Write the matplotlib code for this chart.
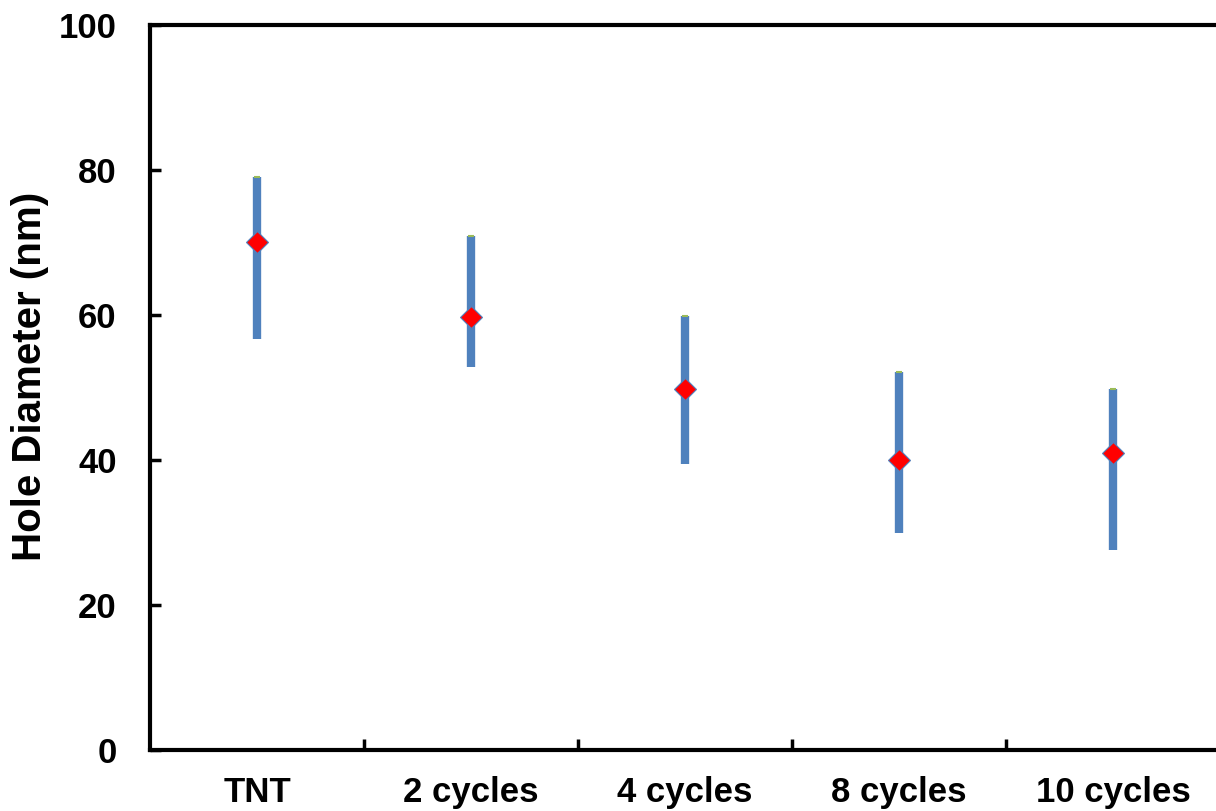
import numpy as np
import matplotlib.pyplot as plt

categories = ['TNT', '2 cycles', '4 cycles', '8 cycles', '10 cycles']
mean_diam = [70.1, 59.7, 49.8, 40.0, 40.9]
low_diam = [56.7, 52.8, 39.5, 29.9, 27.6]
high_diam = [79.1, 70.9, 59.8, 52.1, 49.8]

plt.rcParams['font.family'] = ['Liberation Sans', 'DejaVu Sans']
plt.rcParams['font.weight'] = 'bold'

fig = plt.figure(figsize=(12.16, 8.11), dpi=100)
ax = fig.add_axes([150 / 1216, 61 / 811, 1070 / 1216, 725 / 811])

x = np.arange(1, len(categories) + 1)
ax.vlines(x, low_diam, high_diam, color='#4F81BD', lw=6, capstyle='butt', zorder=2)
ax.plot(x, high_diam, ls='none', marker='_', ms=5, mew=1.5, color='#9BBB59', zorder=2)
ax.plot(x, mean_diam, ls='none', marker='D', ms=11.5, mfc='red', mec='#4F81BD', mew=0.8, zorder=3)

ax.set_xlim(0.5, 5.5)
ax.set_ylim(0, 100)
ax.set_yticks([0, 20, 40, 60, 80, 100])
ax.set_xticks(x[:-1] + 0.5)
ax.set_xticklabels([])
ax.set_xticks(x, minor=True)
ax.set_xticklabels(categories, minor=True)

ax.tick_params(axis='x', which='major', direction='in', length=8, width=2.5)
ax.tick_params(axis='x', which='minor', length=0, pad=19, labelsize=25)
ax.tick_params(axis='y', direction='in', length=8, width=2.5, pad=24, labelsize=25)
for s in ax.spines.values():
    s.set_linewidth(3)

ax.set_ylabel('Hole Diameter (nm)', fontsize=29, fontweight='bold')
ax.yaxis.set_label_coords(-0.094, 0.516)

fig.savefig('out.png', dpi=100)
